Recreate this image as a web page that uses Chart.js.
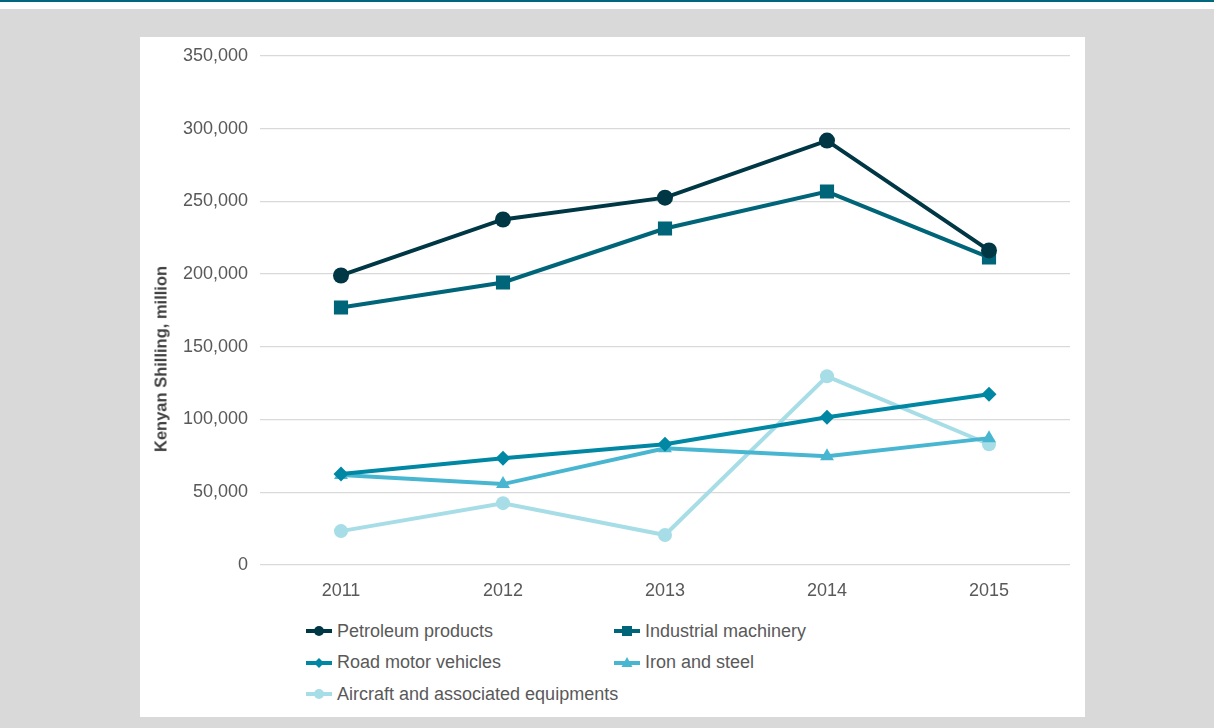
<!DOCTYPE html>
<html>
<head>
<meta charset="utf-8">
<script src="https://cdn.jsdelivr.net/npm/chart.js@4/dist/chart.umd.min.js"></script>
<style>
	body { margin: 0; background: #d9d9d9; width: 1214px; height: 728px; position: relative; overflow: hidden; font-family: "Liberation Sans", Arial, sans-serif; }
	#topbar { position: absolute; left: 0; top: 0; width: 1214px; height: 2px; background: #00677f; }
	#topstrip { position: absolute; left: 0; top: 2px; width: 1214px; height: 7px; background: #ffffff; }
	#panel { position: absolute; left: 140px; top: 37px; width: 945px; height: 680px; background: #ffffff; }
	#chartBox { position: absolute; left: 0; top: -4px; width: 945px; height: 572px; }
	#ytitle { position: absolute; left: 21px; top: 322px; transform: translate(-50%, -50%) rotate(-90deg); color: #404040; font-size: 16.5px; font-weight: bold; white-space: nowrap; }
	#legend { position: absolute; left: 166px; top: 578px; width: 700px; }
	.item { position: absolute; height: 32px; display: flex; align-items: center; color: #595959; font-size: 18px; white-space: nowrap; }
	.item canvas { margin-right: 3px; }
</style>
</head>
<body>
<div id="topbar"></div>
<div id="topstrip"></div>
<div id="panel">
	<div id="chartBox"><canvas id="Grafica1"></canvas></div>
	<div id="ytitle">Kenyan Shilling, million</div>
	<div id="legend"></div>
</div>
<script>
const years = ["2011", "2012", "2013", "2014", "2015"];

const petroleum = [199000, 237500, 252500, 291700, 216200];
const machinery = [177000, 194200, 231300, 256700, 211400];
const vehicles  = [62500, 73400, 83000, 101600, 117400];
const ironSteel = [61800, 55600, 80300, 74800, 87200];
const aircraft  = [23300, 42500, 20600, 129700, 83000];

const ctx = document.getElementById("Grafica1").getContext("2d");

function serie(label, data, color, style, radius) {
	return {
		label: label,
		data: data,
		borderColor: color,
		backgroundColor: color,
		borderWidth: 4,
		pointStyle: style,
		pointRadius: radius,
		pointHoverRadius: radius,
		pointBorderWidth: 0,
		tension: 0,
	};
}

let Grafica1 = new Chart(ctx, {
	type: "line",
	data: {
		labels: years,
		datasets: [
			serie("Petroleum products", petroleum, "#003745", "circle", 8),
			serie("Industrial machinery", machinery, "#006579", "rect", 10),
			serie("Road motor vehicles", vehicles, "#0087a3", "rectRot", 7.5),
			serie("Iron and steel", ironSteel, "#48b6d0", "triangle", 8),
			serie("Aircraft and associated equipments", aircraft, "#a7dde6", "circle", 7),
		],
	},
	options: {
		responsive: true,
		maintainAspectRatio: false,
		animation: false,
		layout: { padding: { top: 14, right: 15, left: 0, bottom: 0 } },
		plugins: {
			legend: { display: false },
			tooltip: { enabled: false },
		},
		scales: {
			y: {
				min: 0,
				max: 350000,
				afterFit: function (scale) { scale.width = 120; },
				border: { display: false },
				grid: {
					color: "#d9d9d9",
					lineWidth: 1.3,
					drawTicks: false,
				},
				ticks: {
					stepSize: 50000,
					color: "#595959",
					padding: 12,
					font: { size: 18, family: "Liberation Sans" },
					callback: function (v) { return v.toLocaleString("en-US"); },
				},
			},
			x: {
				offset: true,
				afterFit: function (scale) { scale.height = 40; },
				border: { display: false },
				grid: { display: false, drawTicks: false },
				ticks: {
					color: "#595959",
					padding: 15,
					font: { size: 18, family: "Liberation Sans" },
				},
			},
		},
	},
});

// legend: line with the series marker, two columns
function drawIcon(cv, ds) {
	let c = cv.getContext("2d");
	c.strokeStyle = ds.borderColor;
	c.fillStyle = ds.borderColor;
	c.lineWidth = 4;
	c.beginPath();
	c.moveTo(0, 10);
	c.lineTo(26, 10);
	c.stroke();
	let x = 13, y = 10, r = 5;
	c.beginPath();
	if (ds.pointStyle == "circle") {
		c.arc(x, y, r, 0, Math.PI * 2);
	} else if (ds.pointStyle == "rect") {
		c.rect(x - 5, y - 5, 10, 10);
	} else if (ds.pointStyle == "rectRot") {
		c.moveTo(x, y - 5); c.lineTo(x + 5, y); c.lineTo(x, y + 5); c.lineTo(x - 5, y);
	} else {
		c.moveTo(x, y - 6); c.lineTo(x + 5.5, y + 4); c.lineTo(x - 5.5, y + 4);
	}
	c.closePath();
	c.fill();
}

const legend = document.getElementById("legend");
Grafica1.data.datasets.forEach(function (ds, i) {
	let item = document.createElement("div");
	item.className = "item";
	item.style.left = (i % 2 == 0 ? 0 : 308) + "px";
	item.style.top = (Math.floor(i / 2) * 31.5) + "px";
	let cv = document.createElement("canvas");
	cv.width = 28;
	cv.height = 20;
	drawIcon(cv, ds);
	item.appendChild(cv);
	item.appendChild(document.createTextNode(ds.label));
	legend.appendChild(item);
});
</script>
</body>
</html>
